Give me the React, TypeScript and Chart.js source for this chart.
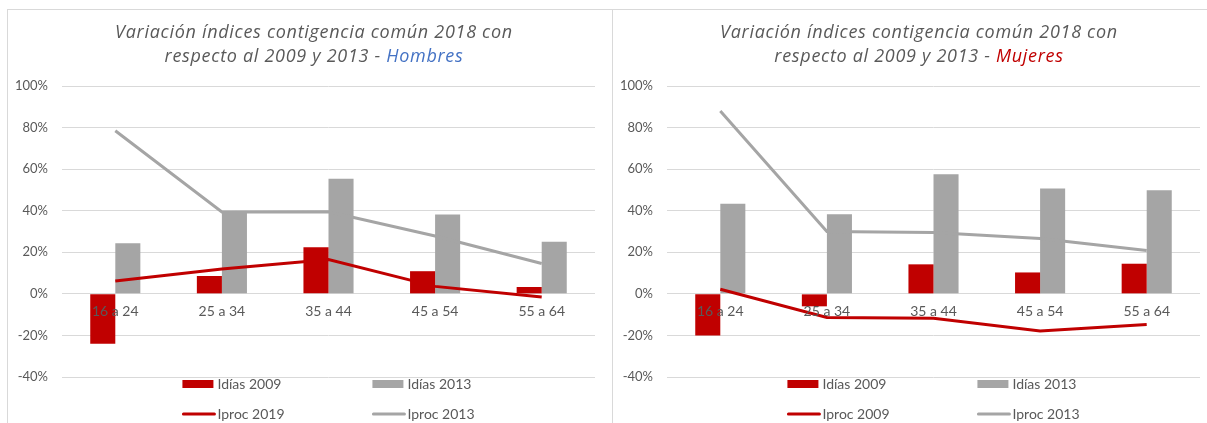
import React, { useEffect, useRef } from "react";
import { Chart, registerables } from "chart.js";

Chart.register(...registerables);

// ---------- data ----------
const categories = ["16 a 24", "25 a 34", "35 a 44", "45 a 54", "55 a 64"];
const yMin = -40;
const yMax = 100;
const yStep = 20;

const titleLine1 = "Variación índices contigencia común 2018 con";
const titleLine2 = "respecto al 2009 y 2013 - ";

const hombresSubject = "Hombres";
const hombresLabels = ["Idías 2009", "Idías 2013", "Iproc 2019", "Iproc 2013"];
const hombresIdias2009 = [-24, 8.6, 22.4, 10.9, 3.3];
const hombresIdias2013 = [24.3, 39, 55.4, 38.2, 25.1];
const hombresIproc2019 = [6.2, 12, 16.5, 3.6, -1.5];
const hombresIproc2013 = [78.5, 39.4, 39.5, 27.8, 14.6];

const mujeresSubject = "Mujeres";
const mujeresLabels = ["Idías 2009", "Idías 2013", "Iproc 2009", "Iproc 2013"];
const mujeresIdias2009 = [-20, -6, 14.2, 10.3, 14.5];
const mujeresIdias2013 = [43.4, 38.3, 57.5, 50.7, 49.9];
const mujeresIproc2009 = [2.2, -11.4, -11.7, -17.9, -14.7];
const mujeresIproc2013 = [88, 30, 29.5, 26.6, 20.9];

// ---------- styles ----------
const RED = "#C00000";
const GREY = "#A5A5A5";
const BLUE = "#4472C4";
const TEXT = "#595959";
const GRID = "#D9D9D9";
const BORDER = "#D9D9D9";
const FONT = "Lato, 'Open Sans', sans-serif";
const TITLE_FONT = "'Open Sans', Lato, sans-serif";

type PanelProps = {
  left: number;
  width: number;
  subject: string;
  subjectColor: string;
  labels: string[];
  idias2009: number[];
  idias2013: number[];
  iprocA: number[];
  iproc2013: number[];
};

function Panel(p: PanelProps) {
  const ref = useRef<HTMLCanvasElement | null>(null);

  useEffect(() => {
    if (!ref.current) return;

    const titlePlugin = {
      id: "customTitle",
      afterDraw(chart: any) {
        const ctx = chart.ctx;
        ctx.save();
        ctx.font = `italic 18px ${TITLE_FONT}`;
        try {
          (ctx as any).letterSpacing = "0.7px";
        } catch (e) {}
        ctx.fillStyle = TEXT;
        ctx.textBaseline = "middle";
        ctx.textAlign = "left";
        const cx = chart.width / 2 + 4;
        const w1 = ctx.measureText(titleLine1).width;
        ctx.fillText(titleLine1, cx - w1 / 2, 23);
        const wa = ctx.measureText(titleLine2).width;
        const wb = ctx.measureText(p.subject).width;
        const x0 = cx - (wa + wb) / 2;
        ctx.fillText(titleLine2, x0, 47);
        ctx.fillStyle = p.subjectColor;
        ctx.fillText(p.subject, x0 + wa, 47);
        ctx.restore();
      },
    };

    const legendPlugin = {
      id: "gridLegend",
      afterDraw(chart: any) {
        const ctx = chart.ctx;
        const area = chart.chartArea;
        const ds = chart.data.datasets;
        ctx.save();
        ctx.font = `14px ${FONT}`;
        ctx.textBaseline = "middle";
        ctx.textAlign = "left";
        const colStep = 190;
        const boxW = 31;
        const gap = 4;
        const col2Text = Math.max(
          ctx.measureText(ds[1].label).width,
          ctx.measureText(ds[3].label).width
        );
        const total = colStep + boxW + gap + col2Text;
        const startX = (area.left + area.right) / 2 - total / 2;
        const rowsY = [area.bottom + 7, area.bottom + 37];
        ds.forEach((d: any, i: number) => {
          const col = i % 2;
          const row = Math.floor(i / 2);
          const x = startX + col * colStep;
          const y = rowsY[row];
          if (d.type === "bar") {
            ctx.fillStyle = d.backgroundColor;
            ctx.fillRect(x, y - 4, boxW, 8);
          } else {
            ctx.strokeStyle = d.borderColor;
            ctx.lineWidth = 3;
            ctx.lineCap = "round";
            ctx.beginPath();
            ctx.moveTo(x + 1, y);
            ctx.lineTo(x + boxW + 1, y);
            ctx.stroke();
          }
          ctx.fillStyle = TEXT;
          ctx.fillText(d.label, x + boxW + gap, y);
        });
        ctx.restore();
      },
    };

    const chart = new Chart(ref.current, {
      type: "bar",
      data: {
        labels: categories,
        datasets: [
          {
            type: "bar",
            label: p.labels[0],
            data: p.idias2009,
            backgroundColor: RED,
            categoryPercentage: 0.47,
            barPercentage: 1,
            order: 2,
          },
          {
            type: "bar",
            label: p.labels[1],
            data: p.idias2013,
            backgroundColor: GREY,
            categoryPercentage: 0.47,
            barPercentage: 1,
            order: 2,
          },
          {
            type: "line",
            label: p.labels[2],
            data: p.iprocA,
            borderColor: RED,
            backgroundColor: RED,
            borderWidth: 3,
            pointRadius: 0,
            tension: 0,
            order: 1,
          },
          {
            type: "line",
            label: p.labels[3],
            data: p.iproc2013,
            borderColor: GREY,
            backgroundColor: GREY,
            borderWidth: 3,
            pointRadius: 0,
            tension: 0,
            order: 1,
          },
        ] as any,
      },
      options: {
        animation: false,
        responsive: true,
        maintainAspectRatio: false,
        layout: { padding: { top: 76, bottom: 46, right: 17, left: 0 } },
        plugins: {
          legend: { display: false },
          title: { display: false },
          tooltip: { enabled: false },
        },
        scales: {
          x: {
            type: "category",
            position: { y: 0 } as any,
            grid: { display: false, drawTicks: false },
            border: { display: false },
            ticks: {
              z: 1,
              color: TEXT,
              font: { family: FONT, size: 14 },
              padding: 9,
              maxRotation: 0,
            },
            afterFit: (s: any) => {
              s.height = 0;
            },
          },
          y: {
            min: yMin,
            max: yMax,
            grid: { color: GRID, lineWidth: 1, drawTicks: false },
            border: { display: false },
            ticks: {
              stepSize: yStep,
              color: TEXT,
              font: { family: FONT, size: 13 },
              padding: 14,
              callback: (v: any) => `${v}%`,
            },
            afterFit: (s: any) => {
              s.width = 54;
            },
          },
        },
      },
      plugins: [titlePlugin, legendPlugin],
    });

    return () => chart.destroy();
  }, []);

  return (
    <div
      style={{
        position: "absolute",
        left: p.left,
        top: 9,
        width: p.width,
        height: 414,
        borderLeft: `1px solid ${BORDER}`,
        borderTop: `1px solid ${BORDER}`,
        background: "#fff",
        boxSizing: "border-box",
      }}
    >
      <div style={{ position: "relative", width: p.width - 1, height: 413 }}>
        <canvas ref={ref} />
      </div>
    </div>
  );
}

export default function App() {
  return (
    <div
      style={{
        position: "absolute",
        left: 0,
        top: 0,
        width: 1207,
        height: 423,
        overflow: "hidden",
        background: "#fff",
      }}
    >
      <Panel
        left={7}
        width={605}
        subject={hombresSubject}
        subjectColor={BLUE}
        labels={hombresLabels}
        idias2009={hombresIdias2009}
        idias2013={hombresIdias2013}
        iprocA={hombresIproc2019}
        iproc2013={hombresIproc2013}
      />
      <Panel
        left={612}
        width={605}
        subject={mujeresSubject}
        subjectColor={RED}
        labels={mujeresLabels}
        idias2009={mujeresIdias2009}
        idias2013={mujeresIdias2013}
        iprocA={mujeresIproc2009}
        iproc2013={mujeresIproc2013}
      />
    </div>
  );
}
